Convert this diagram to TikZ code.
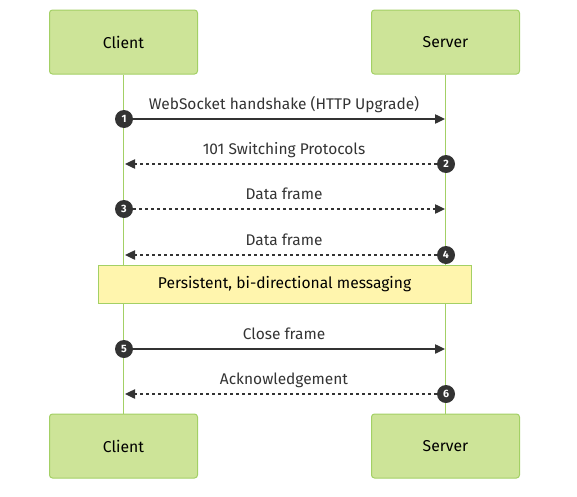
\documentclass[tikz,border=0pt]{standalone}
\usepackage{fontspec}
\setmainfont{Fira Sans}
\usetikzlibrary{arrows.meta}

\definecolor{actorfill}{HTML}{CDE498}
\definecolor{actorline}{HTML}{A3D065}
\definecolor{notefill}{HTML}{FFF5AD}
\definecolor{msgline}{HTML}{333333}

\tikzset{
  actor/.style={draw=actorline, fill=actorfill, line width=0.75pt, rounded corners=2.25pt,
    minimum width=111pt, minimum height=48pt, font=\fontsize{11.8}{14}\selectfont},
  lifeline/.style={draw=actorline, line width=1.4pt},
  notebox/.style={draw=actorline, fill=notefill, line width=0.75pt,
    minimum width=279.75pt, minimum height=28.5pt, font=\fontsize{11.7}{14}\selectfont},
  num/.style={circle, fill=msgline, text=white, inner sep=0pt, minimum size=13.5pt,
    font=\fontsize{8}{8}\selectfont\bfseries},
  msg/.style={draw=msgline, line width=1pt, -{Triangle[length=7.5pt,width=7pt]}},
  reply/.style={msg, dash pattern=on 2.25pt off 2.25pt},
  msglabel/.style={anchor=base, text=msgline, inner sep=0pt, font=\fontsize{11.6}{14}\selectfont}
}

\begin{document}
\begin{tikzpicture}[x=0.75pt, y=-0.75pt]
    \useasboundingbox (0,0) rectangle (577,496);

    % Actores
    \node[actor] (clienttop) at (123.5,42) {Client};
    \node[actor] (servertop) at (445.5,42) {Server};
    \node[actor] (clientbot) at (123.5,446) {Client};
    \node[actor] (serverbot) at (445.5,446) {Server};

    % Lineas de vida
    \draw[lifeline] (clienttop.south) -- (clientbot.north);
    \draw[lifeline] (servertop.south) -- (serverbot.north);

    % Nota
    \node[notebox] (note) at (284.5,284) {Persistent, bi-directional messaging};

    % Mensajes
    \foreach \i/\y/\xa/\xb/\sty/\txt in {
        1/119/124/445/msg/{WebSocket handshake (HTTP Upgrade)},
        2/164/446/125/reply/{101 Switching Protocols},
        3/209/124/445/reply/{Data frame},
        4/255/446/125/reply/{Data frame},
        5/349/124/445/msg/{Close frame},
        6/394/446/125/reply/{Acknowledgement}} {
        \node[num] (n\i) at (\xa,\y) {\i};
        \coordinate (e\i) at (\xb,\y);
        \draw[\sty] (n\i) -- (e\i);
        \node[msglabel] (l\i) at (284,\y-9.5) {\txt};
    }
\end{tikzpicture}
\end{document}
